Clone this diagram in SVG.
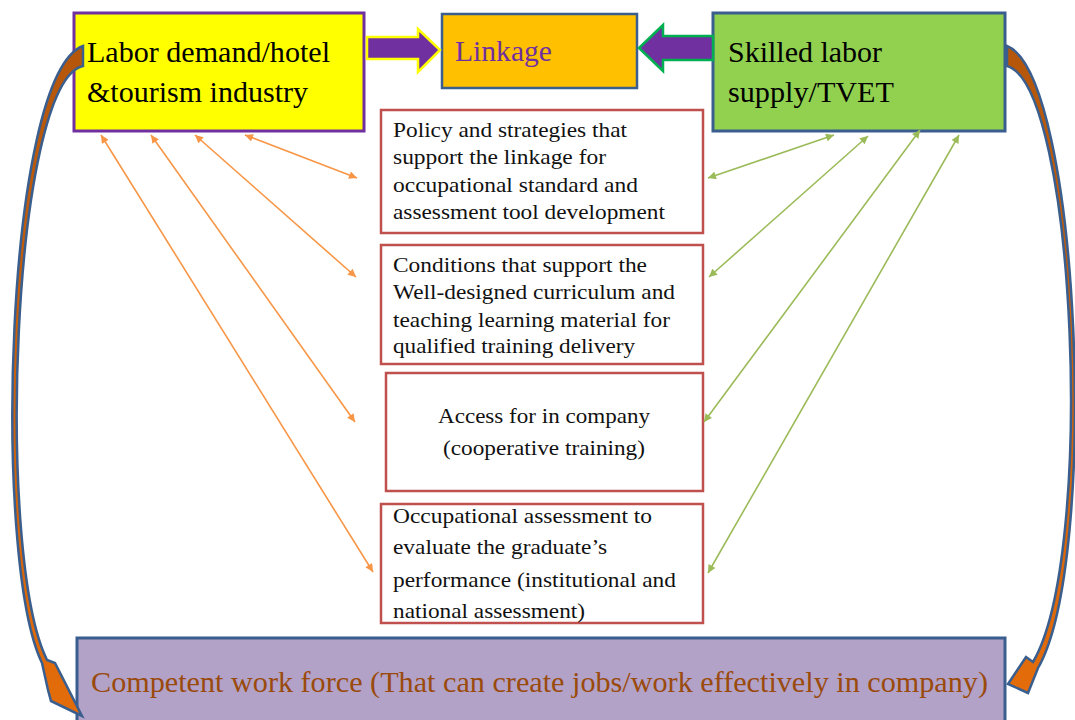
<svg xmlns="http://www.w3.org/2000/svg" width="1075" height="720" viewBox="0 0 1075 720">
  <style>
    .serif { font-family: "Liberation Serif", "Times New Roman", serif; }
    .head { font-size: 29px; fill: #000; }
    .body { font-size: 22px; fill: #111; }
    .topbox { stroke-width: 3; }
    .mid { fill: #fff; stroke: #C0504D; stroke-width: 2.5; }
    .thin-o { stroke: #F79646; stroke-width: 1.6; fill: none; }
    .thin-g { stroke: #9BBB59; stroke-width: 1.6; fill: none; }
    .curve { stroke: #3A5F8F; stroke-width: 2.5; stroke-linejoin: miter; }
  </style>
  <defs>
    <marker id="ah-o" viewBox="0 0 10 10" refX="10" refY="5" markerUnits="userSpaceOnUse" markerWidth="10" markerHeight="8" orient="auto-start-reverse">
      <path d="M0,0 L10,5 L0,10 Z" fill="#F79646"/>
    </marker>
    <marker id="ah-g" viewBox="0 0 10 10" refX="10" refY="5" markerUnits="userSpaceOnUse" markerWidth="10" markerHeight="8" orient="auto-start-reverse">
      <path d="M0,0 L10,5 L0,10 Z" fill="#9BBB59"/>
    </marker>
    <linearGradient id="curveFill" x1="0" y1="0" x2="0" y2="1">
      <stop offset="0" stop-color="#B4560A"/>
      <stop offset="1" stop-color="#E46C0A"/>
    </linearGradient>
  </defs>

  <rect width="1075" height="720" fill="#fff"/>

  <!-- bottom outcome -->
  <g id="node-workforce">
    <rect x="77" y="638" width="928" height="100" fill="#B2A2C7" stroke="#3A5F8F" stroke-width="3"/>
    <text class="serif" x="91" y="692" font-size="30" fill="#9A4A0C" textLength="897" lengthAdjust="spacingAndGlyphs">Competent work force (That can create jobs/work effectively in company)</text>
  </g>

  <!-- top row -->
  <g id="node-demand">
    <rect class="topbox" x="74" y="13" width="290" height="118" fill="#FFFF00" stroke="#7030A0"/>
    <text class="serif head" x="87" y="62" textLength="243" lengthAdjust="spacingAndGlyphs">Labor demand/hotel</text>
    <text class="serif head" x="87" y="102" textLength="221" lengthAdjust="spacingAndGlyphs">&amp;tourism industry</text>
  </g>
  <g id="node-linkage">
    <rect x="442" y="14" width="195" height="74" fill="#FFC000" stroke="#3A5F8F" stroke-width="2.5"/>
    <text class="serif" x="455" y="61" font-size="29" fill="#7030A0" textLength="97" lengthAdjust="spacingAndGlyphs">Linkage</text>
  </g>
  <g id="node-supply">
    <rect class="topbox" x="713" y="13" width="292" height="118" fill="#92D050" stroke="#3A5F8F"/>
    <text class="serif head" x="728" y="62" textLength="154" lengthAdjust="spacingAndGlyphs">Skilled labor</text>
    <text class="serif head" x="728" y="102" textLength="166" lengthAdjust="spacingAndGlyphs">supply/TVET</text>
  </g>

  <!-- middle factors -->
  <g id="node-policy">
    <rect class="mid" x="381" y="110" width="322" height="123"/>
    <text class="serif body" x="393" y="137" textLength="234" lengthAdjust="spacingAndGlyphs">Policy and strategies that</text>
    <text class="serif body" x="393" y="164" textLength="213" lengthAdjust="spacingAndGlyphs">support the linkage for</text>
    <text class="serif body" x="393" y="192" textLength="245" lengthAdjust="spacingAndGlyphs">occupational standard and</text>
    <text class="serif body" x="393" y="219" textLength="272" lengthAdjust="spacingAndGlyphs">assessment tool development</text>
  </g>
  <g id="node-conditions">
    <rect class="mid" x="381" y="245" width="322" height="119"/>
    <text class="serif body" x="393" y="272" textLength="254" lengthAdjust="spacingAndGlyphs">Conditions that support the</text>
    <text class="serif body" x="393" y="299" textLength="282" lengthAdjust="spacingAndGlyphs">Well-designed curriculum and</text>
    <text class="serif body" x="393" y="327" textLength="277" lengthAdjust="spacingAndGlyphs">teaching learning material for</text>
    <text class="serif body" x="393" y="353" textLength="242" lengthAdjust="spacingAndGlyphs">qualified training delivery</text>
  </g>
  <g id="node-access">
    <rect class="mid" x="386" y="373" width="317" height="118"/>
    <text class="serif body" x="438" y="423" textLength="212" lengthAdjust="spacingAndGlyphs">Access for in company</text>
    <text class="serif body" x="443" y="455" textLength="202" lengthAdjust="spacingAndGlyphs">(cooperative training)</text>
  </g>
  <g id="node-assessment">
    <rect class="mid" x="381" y="504" width="322" height="119"/>
    <text class="serif body" x="393" y="523" textLength="259" lengthAdjust="spacingAndGlyphs">Occupational assessment to</text>
    <text class="serif body" x="393" y="554" textLength="214" lengthAdjust="spacingAndGlyphs">evaluate the graduate’s</text>
    <text class="serif body" x="393" y="587" textLength="283" lengthAdjust="spacingAndGlyphs">performance (institutional and</text>
    <text class="serif body" x="393" y="618" textLength="192" lengthAdjust="spacingAndGlyphs">national assessment)</text>
  </g>

  <!-- connectors -->
  <g id="connectors">
    <!-- demand side, two-way links -->
    <line class="thin-o" x1="245" y1="135" x2="357" y2="178" marker-start="url(#ah-o)" marker-end="url(#ah-o)"/>
    <line class="thin-o" x1="195" y1="135" x2="356" y2="277" marker-start="url(#ah-o)" marker-end="url(#ah-o)"/>
    <line class="thin-o" x1="151" y1="135" x2="355" y2="422" marker-start="url(#ah-o)" marker-end="url(#ah-o)"/>
    <line class="thin-o" x1="101" y1="135" x2="373" y2="572" marker-start="url(#ah-o)" marker-end="url(#ah-o)"/>
    <!-- supply side, two-way links -->
    <line class="thin-g" x1="834" y1="135" x2="708" y2="178" marker-start="url(#ah-g)" marker-end="url(#ah-g)"/>
    <line class="thin-g" x1="868" y1="136" x2="709" y2="277" marker-start="url(#ah-g)" marker-end="url(#ah-g)"/>
    <line class="thin-g" x1="920" y1="130" x2="704" y2="422" marker-start="url(#ah-g)" marker-end="url(#ah-g)"/>
    <line class="thin-g" x1="959" y1="135" x2="708" y2="573" marker-start="url(#ah-g)" marker-end="url(#ah-g)"/>

    <!-- block arrows into Linkage -->
    <polygon points="367,37 418,37 418,29 440,50 418,72 418,59 367,59" fill="#7030A0" stroke="#FFFF00" stroke-width="2.5"/>
    <polygon points="713,36 663,36 663,25 639,48 663,71 663,60 713,60" fill="#7030A0" stroke="#00B050" stroke-width="2.5"/>

    <!-- curved arrows down to the workforce box -->
    <path class="curve" fill="url(#curveFill)" d="M83,46 C5,75 -8,560 42,663 L48,690 L51,701 L82,716 L55,663 L47,660 C-5,555 12,82 83,66 Z"/>
    <path class="curve" fill="url(#curveFill)" d="M1007,46 C1080,75 1100,560 1038,668 L1028,693 L1008,684 L1026,657 L1033,662 C1096,555 1076,85 1007,66 Z"/>
  </g>
</svg>
